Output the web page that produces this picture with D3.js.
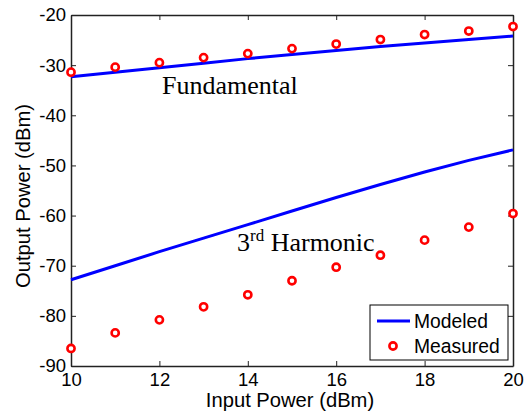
<!DOCTYPE html>
<html>
<head>
<meta charset="utf-8">
<script src="https://cdn.jsdelivr.net/npm/d3@7"></script>
<style>
  body { margin: 0; background: #fff; }
  svg { display: block; }
</style>
</head>
<body>
<div id="chart"></div>
<script>
// values
var inputPower = [10, 11, 12, 13, 14, 15, 16, 17, 18, 19, 20];
var fundModeled = [-32.3, -31.4, -30.5, -29.6, -28.7, -27.9, -27.1, -26.3, -25.6, -24.9, -24.2];
var fundMeasured = [-31.4, -30.4, -29.5, -28.5, -27.7, -26.7, -25.8, -24.9, -23.9, -23.2, -22.3];
var harmModeled = [-72.8, -70.0, -67.2, -64.5, -61.8, -59.1, -56.4, -53.8, -51.3, -49.0, -46.9];
var harmMeasured = [-86.5, -83.4, -80.8, -78.2, -75.8, -73.0, -70.3, -67.9, -64.9, -62.3, -59.6];
var xTicks = [10, 12, 14, 16, 18, 20];
var yTicks = [-90, -80, -70, -60, -50, -40, -30, -20];

var width = 528, height = 412;
var margin = { top: 15, right: 15, bottom: 46, left: 71 };

var svg = d3.select("#chart").append("svg")
  .attr("width", width)
  .attr("height", height);

var x = d3.scaleLinear().domain([10, 20]).range([margin.left, width - margin.right]);
var y = d3.scaleLinear().domain([-90, -20]).range([height - margin.bottom, margin.top]);

var sans = "'Liberation Sans', Arial, Helvetica, sans-serif";
var serif = "'Liberation Serif', 'Times New Roman', serif";
var plain = d => String(d);   // keep the ascii hyphen like matlab does

// axes, ticks pointing inward on all four sides
function styleAxis(g) {
  g.select(".domain").attr("stroke", "#222").attr("stroke-width", 1.5);
  g.selectAll(".tick line").attr("stroke", "#222").attr("stroke-width", 1);
  g.selectAll("text").attr("font-family", sans).attr("font-size", 18.5).attr("fill", "#000");
}

svg.append("g")
  .attr("transform", "translate(0," + (height - margin.bottom) + ")")
  .call(d3.axisBottom(x).tickValues(xTicks).tickSize(-5).tickSizeOuter(0).tickPadding(7).tickFormat(plain))
  .call(styleAxis);

svg.append("g")
  .attr("transform", "translate(0," + margin.top + ")")
  .call(d3.axisTop(x).tickValues(xTicks).tickSize(-5).tickSizeOuter(0).tickFormat(""))
  .call(styleAxis);

svg.append("g")
  .attr("transform", "translate(" + margin.left + ",0)")
  .call(d3.axisLeft(y).tickValues(yTicks).tickSize(-5).tickSizeOuter(0).tickPadding(5).tickFormat(plain))
  .call(styleAxis);

svg.append("g")
  .attr("transform", "translate(" + (width - margin.right) + ",0)")
  .call(d3.axisRight(y).tickValues(yTicks).tickSize(-5).tickSizeOuter(0).tickFormat(""))
  .call(styleAxis);

// axis titles
svg.append("text")
  .attr("x", 290)
  .attr("y", 407)
  .attr("text-anchor", "middle")
  .attr("font-family", sans)
  .attr("font-size", 20.2)
  .text("Input Power (dBm)");

svg.append("text")
  .attr("transform", "translate(30,196) rotate(-90)")
  .attr("text-anchor", "middle")
  .attr("font-family", sans)
  .attr("font-size", 20.2)
  .text("Output Power (dBm)");

// modeled lines
var line = d3.line()
  .x((d, i) => x(inputPower[i]))
  .y(d => y(d));

[fundModeled, harmModeled].forEach(function (s) {
  svg.append("path")
    .datum(s)
    .attr("fill", "none")
    .attr("stroke", "#0000ff")
    .attr("stroke-width", 3)
    .attr("d", line);
});

// measured points
[fundMeasured, harmMeasured].forEach(function (s) {
  svg.append("g").selectAll("circle")
    .data(s)
    .join("circle")
    .attr("cx", (d, i) => x(inputPower[i]))
    .attr("cy", d => y(d))
    .attr("r", 3.6)
    .attr("fill", "#fff")
    .attr("stroke", "#ff0000")
    .attr("stroke-width", 2.6);
});

// annotations
svg.append("text")
  .attr("x", 162)
  .attr("y", 94)
  .attr("font-family", serif)
  .attr("font-size", 26)
  .text("Fundamental");

var harm = svg.append("text")
  .attr("x", 237)
  .attr("y", 251)
  .attr("font-family", serif)
  .attr("font-size", 26);
harm.append("tspan").text("3");
harm.append("tspan").attr("font-size", 17).attr("dy", -10).text("rd");
harm.append("tspan").attr("dy", 10).text(" Harmonic");

// legend
var lg = svg.append("g");
lg.append("rect")
  .attr("x", 370).attr("y", 305)
  .attr("width", 138).attr("height", 55)
  .attr("fill", "#fff")
  .attr("stroke", "#000")
  .attr("stroke-width", 1);
lg.append("line")
  .attr("x1", 377).attr("x2", 410)
  .attr("y1", 321).attr("y2", 321)
  .attr("stroke", "#0000ff")
  .attr("stroke-width", 3);
lg.append("circle")
  .attr("cx", 393).attr("cy", 346)
  .attr("r", 3.6)
  .attr("fill", "#fff")
  .attr("stroke", "#ff0000")
  .attr("stroke-width", 2.6);
lg.append("text")
  .attr("x", 414).attr("y", 328)
  .attr("font-family", sans).attr("font-size", 19.3)
  .text("Modeled");
lg.append("text")
  .attr("x", 414).attr("y", 353)
  .attr("font-family", sans).attr("font-size", 19.3)
  .text("Measured");
</script>
</body>
</html>
